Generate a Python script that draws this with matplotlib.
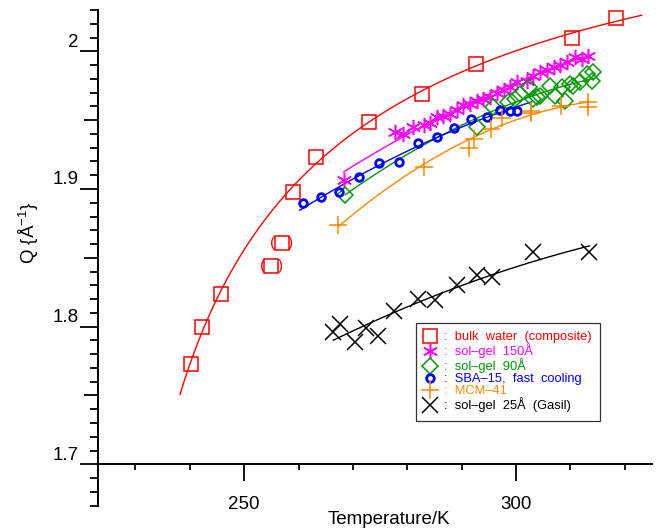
import numpy as np
import matplotlib
matplotlib.use('Agg')
import matplotlib.pyplot as plt
from matplotlib.ticker import MultipleLocator, FixedLocator, FuncFormatter
from matplotlib.transforms import ScaledTranslation

plt.rcParams['font.family'] = ['Liberation Sans', 'DejaVu Sans']
plt.rcParams['mathtext.fontset'] = 'custom'
plt.rcParams['mathtext.rm'] = 'Liberation Sans'
plt.rcParams['mathtext.it'] = 'Liberation Sans:italic'

# bulk water (composite)
bulk_T = [240.2, 242.3, 245.7, 258.9, 263.2, 272.9, 282.7, 292.6, 310.2, 318.3]
bulk_Q = [1.773, 1.800, 1.824, 1.898, 1.923, 1.949, 1.969, 1.991, 2.010, 2.024]
# points in brackets (left out of the fit)
bulk_excl_T = [255.0, 256.9]
bulk_excl_Q = [1.844, 1.861]
bulk_fit_range = [238.2, 323.1]

# sol-gel 150A
sg150_T = [268.3, 277.8, 279.3, 281.1, 283.0, 284.2, 285.4, 286.6, 287.9, 289.1,
           290.3, 291.5, 292.8, 294.0, 295.2, 296.5, 297.7, 298.9, 300.1, 302.0,
           303.2, 304.4, 305.6, 306.9, 308.1, 309.3, 310.8, 312.1, 313.3]
sg150_Q = [1.9066, 1.9417, 1.9400, 1.9453, 1.9468, 1.9477, 1.9520, 1.9533, 1.9545, 1.9570,
           1.9613, 1.9618, 1.9640, 1.9654, 1.9670, 1.9700, 1.9720, 1.9744, 1.9775, 1.9787,
           1.9824, 1.9848, 1.9865, 1.9884, 1.9903, 1.9925, 1.9957, 1.9945, 1.9969]

# sol-gel 90A
sg90_T = [268.6, 292.8, 295.8, 298.6, 299.8, 300.7, 302.3, 303.2, 303.8, 304.4,
          306.3, 307.2, 308.4, 309.0, 309.9, 310.5, 311.8, 313.0, 313.9, 314.2]
sg90_Q = [1.8959, 1.9453, 1.9593, 1.9630, 1.9654, 1.9691, 1.9739, 1.9654, 1.9666, 1.9678,
          1.9751, 1.9678, 1.9739, 1.9642, 1.9763, 1.9751, 1.9775, 1.9836, 1.9787, 1.9848]

# SBA-15, fast cooling
sba_T = [260.9, 264.2, 267.5, 271.2, 274.8, 278.4, 282.0, 285.5, 288.5, 291.7,
         294.7, 297.1, 298.9, 300.1]
sba_Q = [1.8896, 1.8940, 1.8981, 1.9085, 1.9187, 1.9194, 1.9332, 1.9381, 1.9446, 1.9506,
         1.9524, 1.9572, 1.9569, 1.9567]
sba_fit_range = [260.2, 302.9]

# MCM-41
mcm_T = [267.3, 283.0, 291.3, 292.3, 295.4, 297.4, 302.8, 302.8, 308.2, 313.3, 313.3]
mcm_Q = [1.8741, 1.9158, 1.9300, 1.9366, 1.9439, 1.9516, 1.9569, 1.9553, 1.9602, 1.9635, 1.9594]

# sol-gel 25A (Gasil)
sg25_T = [266.4, 267.6, 270.4, 272.4, 274.7, 277.6, 282.0, 285.1, 289.1, 292.8,
          295.5, 303.1, 313.5]
sg25_Q = [1.7959, 1.8020, 1.7887, 1.7991, 1.7935, 1.8117, 1.8204, 1.8197, 1.8304, 1.8378,
          1.8359, 1.8540, 1.8540]

red = '#ff0000'
magenta = '#ff00ff'
green = '#009a00'
blue = '#0000ff'
orange = '#ff8800'

fig = plt.figure(figsize=(6.56, 5.31), dpi=100)
ax = fig.add_axes([98.4 / 656, (531 - 505.6) / 531, (652 - 98.4) / 656, (505.6 - 10) / 531])
ax.set_xlim(223.2, 325.0)
ax.set_ylim(1.67, 2.03)


def fit_line(T, Q, deg, rng=None, logT0=None):
    T = np.asarray(T)
    Q = np.asarray(Q)
    if rng is None:
        rng = [T.min(), T.max()]
    tt = np.linspace(rng[0], rng[1], 300)
    if logT0 is not None:
        p = np.polyfit(np.log(T - logT0), Q, deg)
        return tt, np.polyval(p, np.log(tt - logT0))
    p = np.polyfit(T, Q, deg)
    return tt, np.polyval(p, tt)


series = [
    (bulk_T, bulk_Q, red, 's', 10, 1.1, 2, bulk_fit_range, 222.0,
     ':  bulk  water  (composite)'),
    (sg150_T, sg150_Q, magenta, (6, 2, 0), 11, 1.1, 2, None, None, ':  sol\u2013gel  150\u00c5'),
    (sg90_T, sg90_Q, green, 'D', 8.5, 1.1, 2, None, None, ':  sol\u2013gel  90\u00c5'),
    (sba_T, sba_Q, blue, 'o', 5.5, 2.0, 2, sba_fit_range, None, ':  SBA\u201315,  fast  cooling'),
    (mcm_T, mcm_Q, orange, '+', 13, 1.1, 2, None, None, ':  MCM\u201341'),
    (sg25_T, sg25_Q, 'black', 'x', 11, 1.1, 2, None, None, ':  sol\u2013gel  25\u00c5  (Gasil)'),
]

handles = []
for T, Q, c, m, ms, mew, deg, rng, t0, lab in series:
    tt, qq = fit_line(T, Q, deg, rng, t0)
    ax.plot(tt, qq, color=c, lw=1.0, zorder=2)
    h, = ax.plot(T, Q, linestyle='none', marker=m, ms=ms, mec=c, mfc='none',
                 mew=mew, color=c, label=lab, zorder=3)
    handles.append(h)

# bracketed bulk points
ax.plot(bulk_excl_T, bulk_excl_Q, linestyle='none', marker='s', ms=10, mec=red,
        mfc='none', mew=1.1)
for t, q in zip(bulk_excl_T, bulk_excl_Q):
    ax.annotate('(', (t, q), xytext=(-9, 0), textcoords='offset pixels',
                ha='center', va='center', color=red, fontsize=11)
    ax.annotate(')', (t, q), xytext=(9, 0), textcoords='offset pixels',
                ha='center', va='center', color=red, fontsize=11)

# axes styling
for s in ['top', 'right']:
    ax.spines[s].set_visible(False)
ax.spines['bottom'].set_position(('data', 1.7))
ax.spines['left'].set_linewidth(1.4)
ax.spines['bottom'].set_linewidth(1.4)

ax.xaxis.set_major_locator(FixedLocator([250, 300]))
ax.xaxis.set_minor_locator(MultipleLocator(10))
ax.yaxis.set_major_locator(FixedLocator([1.7, 1.8, 1.9, 2.0]))
ax.yaxis.set_minor_locator(MultipleLocator(0.01))
ax.yaxis.set_major_formatter(FuncFormatter(lambda v, p: '%g' % round(v, 2)))

ax.tick_params(axis='both', which='both', direction='out', width=1.3)
ax.tick_params(axis='x', which='major', length=12.5, pad=10, labelsize=13.5)
ax.tick_params(axis='x', which='minor', length=4.5)
ax.tick_params(axis='y', which='major', length=13, pad=1, labelsize=13.5)
ax.tick_params(axis='y', which='minor', length=5.8)

# longer minor ticks at the half-way marks
ylocs = ax.yaxis.get_minorticklocs()
yticks = ax.yaxis.get_minor_ticks(len(ylocs))
for loc, t in zip(ylocs, yticks):
    if abs(loc * 20 - round(loc * 20)) < 1e-6:
        t.tick1line.set_markersize(10)

# y tick labels sit above their ticks
off = ScaledTranslation(0, 11 / 100, fig.dpi_scale_trans)
for lab in ax.get_yticklabels():
    lab.set_transform(lab.get_transform() + off)

ax.set_xlabel('Temperature/K', fontsize=13.5)
ax.xaxis.set_label_coords((389 - 98.4) / 553.6, (505.6 - 519) / 495.6)
ax.set_ylabel('Q {\u00c5$^{-1}$}', fontsize=13.5)
ax.yaxis.set_label_coords((29 - 98.4) / 553.6, (505.6 - 233) / 495.6)
ax.xaxis.label.set_va('center')
ax.yaxis.label.set_va('center')

leg = ax.legend(handles=handles, loc='upper left',
                bbox_to_anchor=(416 / 656, 1 - 323 / 531), bbox_transform=fig.transFigure,
                borderaxespad=0, fontsize=9.3, frameon=True, fancybox=False,
                handlelength=0.9, handletextpad=0.6, borderpad=0.65, labelspacing=0.0,
                labelcolor='linecolor')
leg.get_frame().set_edgecolor('black')
leg.get_frame().set_linewidth(0.9)

fig.savefig('out.png', dpi=100)
